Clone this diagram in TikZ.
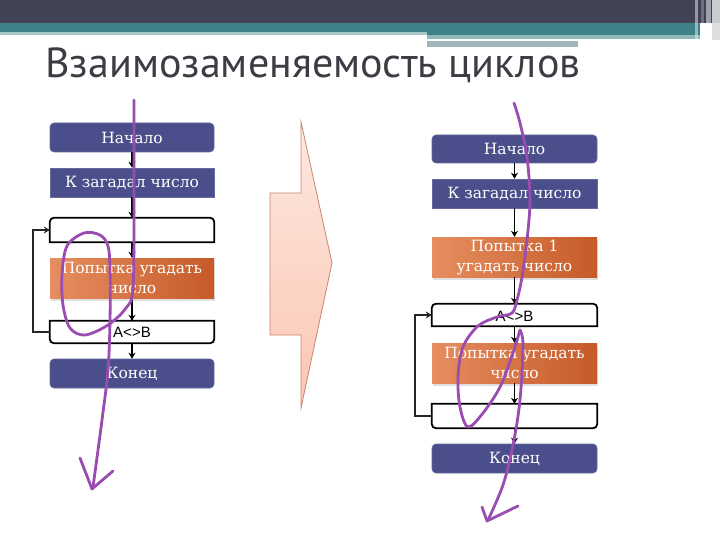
\documentclass[tikz,border=0pt]{standalone}
\usepackage{fontspec}
\newfontfamily\titlefont{PT Sans}
\newfontfamily\boxfont{DejaVu Serif}
\newfontfamily\arialfont{Liberation Sans}
\usetikzlibrary{arrows.meta,shadows}
\definecolor{hdark}{HTML}{404354}
\definecolor{hteal}{HTML}{3E8288}
\definecolor{hlight}{HTML}{A9C7CA}
\definecolor{hlight2}{HTML}{8FB8BB}
\definecolor{hgray}{HTML}{9FB5B8}
\definecolor{titlegray}{HTML}{3C3C44}
\definecolor{boxblue}{HTML}{4A4E8A}
\definecolor{orL}{HTML}{E68E60}
\definecolor{orR}{HTML}{C65A28}
\definecolor{arrTop}{HTML}{FDE8E1}
\definecolor{arrBot}{HTML}{FBC6B2}
\definecolor{arrLine}{HTML}{C8866C}
\definecolor{ink}{HTML}{9A4CB0}
\begin{document}
\begin{tikzpicture}[x=1pt,y=-1pt,
  boxtext/.style={text=white, font=\boxfont\fontsize{15.5}{20}\selectfont, align=center, inner sep=0pt, minimum width=164pt},
  bluebox/.style={boxtext, fill=boxblue, draw=boxblue!85!white, line width=0.6pt},
  orbox/.style={boxtext, left color=orL, right color=orR, drop shadow={opacity=0.25, shadow xshift=1pt, shadow yshift=-2.5pt}},
  loopbox/.style={boxtext, text=black, font=\arialfont\fontsize{15}{18}\selectfont},
  outline/.style={draw=black, line width=1.8pt, fill=white},
  conn/.style={draw=black, line width=1.8pt, -{Stealth[length=6pt,width=7pt]}},
  loopline/.style={draw=black!85, line width=2.2pt, -{Stealth[length=6pt,width=7pt]}},
  inkline/.style={draw=ink, line width=2.8pt, line cap=round, line join=round},
  bigarrow/.style={top color=arrTop, bottom color=arrBot, draw=arrLine, line width=0.8pt}
]
\useasboundingbox (0,0) rectangle (720,540);
% header
\fill[hdark] (0,0) rectangle (720,23);
\fill[hteal] (0,23) rectangle (427,32);
\fill[hteal] (427,23) rectangle (700,35);
\fill[hlight] (0,32) rectangle (427,35);
\fill[hlight2] (427,35) rectangle (700,39);
\fill[hgray] (427,41) rectangle (578,47);
\fill[white, opacity=0.45] (695,0) rectangle (698,40);
\fill[white, opacity=0.25] (701,0) rectangle (704,40);
\fill[white, opacity=0.5] (706,0) rectangle (711,40);
\fill[white!80!hdark, opacity=0.9] (712,0) rectangle (720,40);
% title
\node[anchor=base west, font=\titlefont\fontsize{42}{44}\selectfont, text=titlegray, inner sep=0pt] (title) at (45,78) {Взаимозаменяемость циклов};

% left flowchart
\node[bluebox, rounded corners=4pt, minimum height=29pt] (L1) at (132,137.5) {Начало};
\node[bluebox, minimum height=29pt] (L2) at (132,182.5) {К загадал число};
\node[loopbox, minimum height=24pt] (L3) at (132,230) {};
\draw[outline] (L3.south west) [rounded corners=4pt] -- (L3.north west) -- (L3.north east) [sharp corners] -- (L3.south east) -- cycle;
\node[orbox, minimum height=40pt] (L4) at (132,278) {Попытка угадать\\число};
\node[loopbox, minimum height=22pt] (L5b) at (132,332) {};
\draw[outline] (L5b.north west) [rounded corners=4pt] -- (L5b.south west) -- (L5b.south east) [sharp corners] -- (L5b.north east) -- cycle;
\node[loopbox, minimum height=22pt] (L5) at (132,332) {A<>B};
\node[bluebox, rounded corners=4pt, minimum height=29pt] (L6) at (132,373.5) {Конец};
\draw[conn] (L1) -- (L2);
\draw[conn] (L2) -- (L3);
\draw[conn] (L3) -- (L4);
\draw[conn] (L4) -- (L5);
\draw[conn] (L5) -- (L6);
\draw[loopline] (L5.west) -- ++(-17,0) |- (L3.west);

% big arrow
\draw[bigarrow] (301,122) -- (332,263) -- (301,408) -- (301,335) -- (270,335) -- (270,193) -- (301,193) -- cycle;

% right flowchart
\node[bluebox, rounded corners=4pt, minimum height=28pt, minimum width=165pt] (R1) at (514.5,149) {Начало};
\node[bluebox, minimum height=29pt, minimum width=165pt] (R2) at (514.5,193.5) {К загадал число};
\node[orbox, minimum height=40pt, minimum width=165pt] (R3) at (514.5,257) {Попытка 1\\угадать число};
\node[loopbox, minimum height=22pt, minimum width=165pt] (R4b) at (514.5,315) {};
\draw[outline] (R4b.south west) [rounded corners=4pt] -- (R4b.north west) -- (R4b.north east) [sharp corners] -- (R4b.south east) -- cycle;
\node[loopbox, minimum height=22pt, minimum width=165pt] (R4) at (514.5,316) {A<>B};
\node[orbox, minimum height=40pt, minimum width=165pt] (R5) at (514.5,363) {Попытка угадать\\число};
\node[loopbox, minimum height=24pt, minimum width=165pt] (R6) at (514.5,416) {};
\draw[outline] (R6.north west) [rounded corners=4pt] -- (R6.south west) -- (R6.south east) [sharp corners] -- (R6.north east) -- cycle;
\node[bluebox, rounded corners=4pt, minimum height=29pt, minimum width=165pt] (R7) at (514.5,458.5) {Конец};
\draw[conn] (R1) -- (R2);
\draw[conn] (R2) -- (R3);
\draw[conn] (R3) -- (R4b);
\draw[conn] (R4b) -- (R5);
\draw[conn] (R5) -- (R6);
\draw[conn] (R6) -- (R7);
\draw[loopline] (R6.west) -- ++(-17,0) |- (R4b.west);

% ink annotations
\draw[inkline] plot[smooth, tension=0.55] coordinates {(134,100) (134,200) (133,288) (126,308) (108,325) (85,335) (70,328) (63,305) (62,275) (67,246) (84,233) (100,235) (108,246) (110,270) (110,320) (108,370) (102,420) (93,487)};
\draw[inkline] (80,458) -- (92,489) -- (113,471);
\draw[inkline] plot[smooth, tension=0.55] coordinates {(514,103) (520,123) (527,157) (530,200) (527,240) (522,277) (517,300) (512,313) (497,317) (478,326) (463,347) (458,377) (460,407) (468,427) (483,413) (500,387) (513,353) (520,330)};
\draw[inkline] plot[smooth, tension=0.55] coordinates {(520,330) (523,345) (520,400) (513,445) (503,485) (488,520)};
\draw[inkline] (482,507) -- (487,521) -- (518,506);
\end{tikzpicture}
\end{document}
